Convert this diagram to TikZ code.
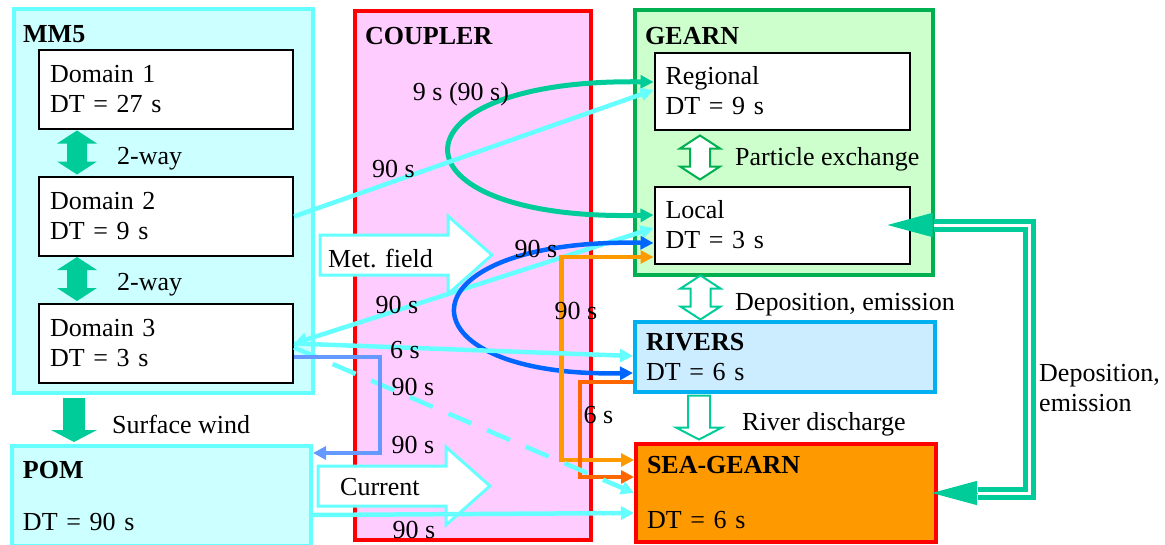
\documentclass[tikz,border=0pt]{standalone}
\usepackage{fontspec}
\setmainfont{Liberation Serif}
\usepackage{xcolor}
\usetikzlibrary{positioning, arrows.meta}

\definecolor{mmfill}{HTML}{CCFFFF}
\definecolor{mmline}{HTML}{66FFFF}
\definecolor{cpfill}{HTML}{FFCCFF}
\definecolor{cpline}{HTML}{FF0000}
\definecolor{gnfill}{HTML}{CCFFCC}
\definecolor{gnline}{HTML}{00B050}
\definecolor{rvfill}{HTML}{CCECFF}
\definecolor{rvline}{HTML}{00B0F0}
\definecolor{sgfill}{HTML}{FF9900}
\definecolor{teal2}{HTML}{00CC99}
\definecolor{lineblue}{HTML}{0066FF}
\definecolor{paleblue}{HTML}{6699FF}
\definecolor{orng}{HTML}{FF9900}
\definecolor{orred}{HTML}{FF6600}

\tikzset{
  fatdbl/.pic={\path[pic actions] (0,-22) -- (20,-9) -- (10,-9) -- (10,9) -- (20,9) -- (0,22)
      -- (-20,9) -- (-10,9) -- (-10,-9) -- (-20,-9) -- cycle;},
  fatdown/.pic={\path[pic actions] (-11,-22) -- (11,-22) -- (11,10) -- (23,10) -- (0,22)
      -- (-23,10) -- (-11,10) -- cycle;},
  fatright/.pic={\path[pic actions] (0,-20) -- (128,-20) -- (128,-39) -- (172,0) -- (128,39)
      -- (128,20) -- (0,20) -- cycle;}
}

\begin{document}
\begin{tikzpicture}[x=1pt, y=-1pt, node distance=46pt,
    every node/.style={font=\fontsize{26}{30}\selectfont, inner sep=0pt},
    cbox/.style={draw, line width=4pt, align=left, inner xsep=11pt},
    inbox/.style={draw=black, fill=white, line width=2pt, align=left, inner xsep=11pt},
    ttl/.style={anchor=base west, font=\fontsize{26}{30}\selectfont\bfseries},
    lbl/.style={anchor=base west},
    tm/.style={anchor=base},
    cpl/.style={line width=4.5pt, -{Triangle[length=13pt,width=13pt]}},
    cplb/.style={line width=4.5pt, {Triangle[length=13pt,width=13pt]}-{Triangle[length=13pt,width=13pt]}},
    depdbl/.style={draw=teal2, line width=5pt, double=white, double distance=3pt},
    dephead/.style={draw=teal2, line width=1pt, -{Triangle[length=45pt,width=24pt]}}]
    \useasboundingbox (0,0) rectangle (1165,544);

    % containers
    \node[cbox, draw=mmline, fill=mmfill, minimum width=299pt, minimum height=384pt] (mm5) at (163.5,201) {};
    \node[cbox, draw=cpline, fill=cpfill, minimum width=236pt, minimum height=529pt] (coupler) at (473,275.5) {};
    \node[cbox, draw=gnline, fill=gnfill, minimum width=298pt, minimum height=265pt] (gearn) at (784,142.5) {};
    \node[cbox, draw=mmline, fill=mmfill, minimum width=299pt, minimum height=100pt, text width=277pt] (pom) at (161.5,496) {\textbf{POM}\\[22pt]DT = 90 s};
    \node[cbox, draw=rvline, fill=rvfill, minimum width=300pt, minimum height=70pt, text width=278pt] (rivers) at (785,357) {\textbf{RIVERS}\\DT = 6 s};
    \node[cbox, draw=cpline, fill=sgfill, minimum width=300pt, minimum height=98pt, text width=278pt] (seag) at (786,493) {\textbf{SEA-GEARN}\\[25pt]DT = 6 s};

    \node[ttl] (mm5t) at (23,42) {MM5};
    \node[ttl] (cplt) at (365,44) {COUPLER};
    \node[ttl] (gnt) at (645,44) {GEARN};

    % MM5 domains
    \node[inbox, minimum width=254pt, minimum height=79pt, text width=232pt] (dom1) at (166,89.5) {Domain 1\\DT = 27 s};
    \node[inbox, minimum width=254pt, minimum height=79pt, text width=232pt, below=46pt of dom1] (dom2) {Domain 2\\DT = 9 s};
    \node[inbox, minimum width=254pt, minimum height=79pt, text width=232pt, below=46pt of dom2] (dom3) {Domain 3\\DT = 3 s};

    % GEARN grids
    \node[inbox, minimum width=255pt, minimum height=77pt, text width=233pt] (regional) at (782,91) {Regional\\DT = 9 s};
    \node[inbox, minimum width=255pt, minimum height=77pt, text width=233pt, below=55pt of regional] (local) {Local\\DT = 3 s};

    % fat arrows
    \pic[fill=teal2] (wayA) at (77,152.5) {fatdbl};
    \pic[fill=teal2] (wayB) at (77,279) {fatdbl};
    \pic[fill=teal2] (wind) at (74,420) {fatdown};
    \pic[draw=gnline, fill=white, line width=2pt] (pex) at (700,157.5) {fatdbl};
    \pic[draw=teal2, fill=white, line width=2pt] (dep) at (700.5,297.5) {fatdbl};
    \pic[draw=teal2, fill=white, line width=2pt] (rdis) at (699,417.5) {fatdown};
    \pic[draw=mmline, fill=white, line width=3pt] (met) at (320,255) {fatright};
    \pic[draw=mmline, fill=white, line width=3pt] (cur) at (318,486) {fatright};

    % links to GEARN
    \draw[cplb, teal2, line width=5pt] ([yshift=9pt]regional.west) .. controls (383,78) and (383,222) .. ([yshift=10pt]local.west);
    \draw[cpl, mmline] (dom2.east) -- ([yshift=1pt]regional.west);
    \draw[cplb, mmline] (dom3.east) -- ([yshift=-3pt]local.west);
    \draw[cplb, lineblue] ([yshift=-18pt]local.west) .. controls (395,238) and (395,378) .. ([yshift=-16pt]rivers.west);
    \draw[cplb, orng] ([yshift=-32pt]local.west) -- ++(-92,0) |- ([yshift=33pt]seag.west);

    % links to RIVERS and SEA-GEARN
    \draw[cpl, mmline] (dom3.east) -- ([yshift=1pt]rivers.west);
    \draw[cpl, orred] ([yshift=-25pt]rivers.west) -- ++(-53,0) |- ([yshift=16pt]seag.west);
    \draw[cpl, mmline, dash pattern=on 25pt off 17pt] ([yshift=-4pt]dom3.east) -- (seag.west);

    % links to POM
    \draw[cpl, paleblue] ([yshift=-13.5pt]dom3.east) -- ++(86,0) |- ([yshift=43pt]pom.east);
    \draw[cpl, mmline] ([yshift=-19pt]pom.east) -- ([yshift=-20pt]seag.west);

    % deposition loop
    \draw[depdbl] ([xshift=23pt]local.east) -- ++(96,0) |- ([xshift=40pt]seag.east);
    \draw[dephead] ([xshift=23pt]local.east) -- ([xshift=-23pt]local.east);
    \draw[dephead] ([xshift=40pt]seag.east) -- ([xshift=-6pt]seag.east);

    % time steps
    \node[tm] (t1) at (461,100) {9 s (90 s)};
    \node[tm] (t2) at (393.5,177) {90 s};
    \node[tm] (t3) at (397,313) {90 s};
    \node[tm] (t4) at (405,358) {6 s};
    \node[tm] (t5) at (413,395) {90 s};
    \node[tm] (t6) at (413,453) {90 s};
    \node[tm] (t7) at (414,538) {90 s};
    \node[tm] (t8) at (536,257) {90 s};
    \node[tm] (t9) at (576,319) {90 s};
    \node[tm] (t10) at (598.5,423) {6 s};

    % other labels
    \node[lbl] (way1) at (117,164) {2-way};
    \node[lbl] (way2) at (117,290) {2-way};
    \node[lbl] (windl) at (112,433) {Surface wind};
    \node[lbl] (metl) at (328,267) {Met. field};
    \node[lbl] (curl) at (340,495) {Current};
    \node[lbl] (pexl) at (735,165) {Particle exchange};
    \node[lbl] (depl) at (735,310) {Deposition, emission};
    \node[lbl] (rdisl) at (742,430) {River discharge};
    \node[anchor=north west, align=left] (dep2l) at (1039,364) {Deposition,\\emission};
\end{tikzpicture}
\end{document}
